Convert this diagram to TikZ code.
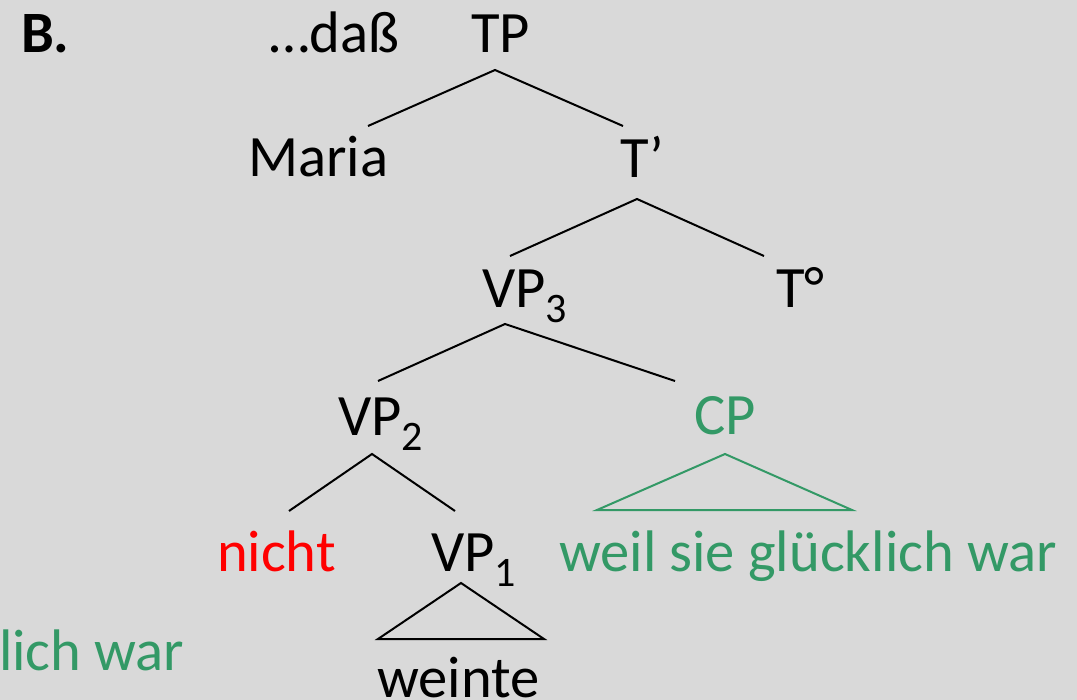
\documentclass[tikz,border=0pt]{standalone}
\usepackage{fontspec}
\setmainfont{Carlito}
\definecolor{bg}{HTML}{D9D9D9}
\definecolor{cpgreen}{RGB}{51,153,102}
\definecolor{negred}{RGB}{255,0,0}
% category label with a lowered index
\newcommand{\catsub}[2]{#1\raisebox{-7.5pt}{\fontsize{21}{21}\selectfont #2}}
\begin{document}
\begin{tikzpicture}[x=0.5pt,y=-0.5pt,
  every node/.style={inner sep=0pt, outer sep=0pt, anchor=base west,
    font=\fontsize{29.3}{34}\selectfont},
  branch/.style={line width=1pt, line join=miter},
  roof/.style={line width=1pt, line join=miter},
  green/.style={text=cpgreen},
  neg/.style={text=negred}]

\fill[bg] (0,0) rectangle (1077,700);
\useasboundingbox (0,0) rectangle (1077,700);

% labels
\node (B)     at (21,53)   {\bfseries B.};
\node (dass)  at (269,53)  {…daß};
\node (TP)    at (471,53)  {TP};
\node (Maria) at (248,177) {Maria};
\node (Tbar)  at (620,178) {T’};
\node (VP3)   at (482,308) {\catsub{VP}{3}};
\node (Tdeg)  at (776,308) {T°};
\node (VP2)   at (338,436) {\catsub{VP}{2}};
\node[green] (CP) at (694,435) {CP};
\node[neg] (nicht) at (217,571) {nicht};
\node (VP1)   at (431,571) {\catsub{VP}{1}};
\node[green] (weil) at (559,571) {weil sie glücklich war};
\node[green] (lich) at (-1,670) {lich war};
\node (weinte) at (377,697) {weinte};

% branch points
\coordinate (tp-l) at (368,126);  \coordinate (tp-a) at (495,70);  \coordinate (tp-r) at (623,126);
\coordinate (tb-l) at (510,256);  \coordinate (tb-a) at (637,199); \coordinate (tb-r) at (764,256);
\coordinate (v3-l) at (378,381);  \coordinate (v3-a) at (505,324); \coordinate (v3-r) at (675,381);
\coordinate (v2-l) at (289,511);  \coordinate (v2-a) at (372,454); \coordinate (v2-r) at (455,511);
\coordinate (cp-l) at (597,510);  \coordinate (cp-a) at (725,454); \coordinate (cp-r) at (852,510);
\coordinate (v1-l) at (378,639);  \coordinate (v1-a) at (461,583); \coordinate (v1-r) at (544,639);

\draw[branch] (tp-l) -- (tp-a) -- (tp-r);
\draw[branch] (tb-l) -- (tb-a) -- (tb-r);
\draw[branch] (v3-l) -- (v3-a) -- (v3-r);
\draw[branch] (v2-l) -- (v2-a) -- (v2-r);
\draw[roof, draw=cpgreen] (cp-l) -- (cp-a) -- (cp-r) -- cycle;
\draw[roof] (v1-l) -- (v1-a) -- (v1-r) -- cycle;
\end{tikzpicture}
\end{document}
